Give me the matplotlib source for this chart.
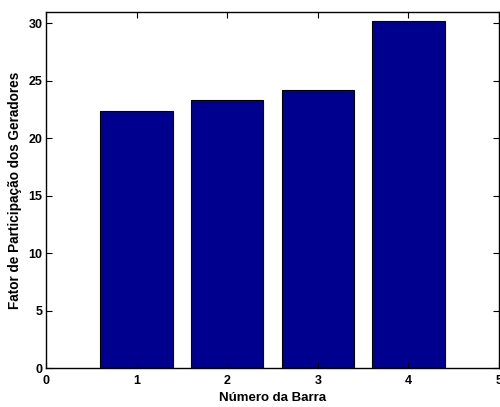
import matplotlib
matplotlib.use("Agg")
import matplotlib.pyplot as plt

barras = [1, 2, 3, 4]
fator = [22.4, 23.3, 24.2, 30.2]
xticks = [0, 1, 2, 3, 4, 5]
yticks = [0, 5, 10, 15, 20, 25, 30]

plt.rcParams['font.family'] = ['Liberation Sans', 'DejaVu Sans']
plt.rcParams['font.weight'] = 'bold'

fig = plt.figure(figsize=(5.0, 4.07), dpi=100)
ax = fig.add_axes([0.092, 0.0958, 0.906, 0.875])
ax.bar(barras, fator, width=0.8, color='#00008F', edgecolor='black', linewidth=0.8)
ax.set_xlim(0, 5)
ax.set_ylim(0, 31)
ax.set_xticks(xticks)
ax.set_yticks(yticks)
ax.tick_params(direction='in', top=True, right=True, labelsize=9, length=4, width=0.8)
ax.tick_params(axis='x', pad=5)
ax.tick_params(axis='y', pad=2.5)
for lab in ax.get_xticklabels() + ax.get_yticklabels():
    lab.set_fontweight('bold')
for s in ax.spines.values():
    s.set_linewidth(1.0)
ax.set_xlabel('Número da Barra', fontsize=9.5, fontweight='bold', labelpad=3.5)
ax.set_ylabel('Fator de Participação dos Geradores', fontsize=9.8, fontweight='bold', labelpad=4.5)
fig.savefig('out.png', dpi=100)
